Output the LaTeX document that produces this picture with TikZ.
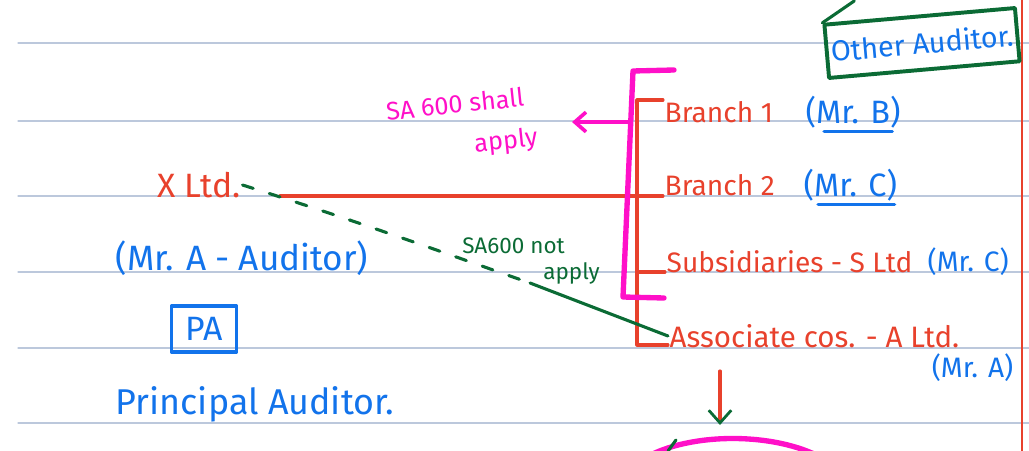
\documentclass[tikz,border=0pt]{standalone}
\usepackage{fontspec}
\setmainfont{Fira Sans}
\usepackage{xcolor}
\usepackage{tikz}
\usetikzlibrary{arrows.meta, positioning, calc}

\definecolor{penred}{HTML}{E8412C}
\definecolor{penblue}{HTML}{1273EB}
\definecolor{pengreen}{HTML}{0B6B35}
\definecolor{penpink}{HTML}{FF10C8}
\definecolor{ruleline}{HTML}{BCC8DC}

\tikzset{
  hand/.style={font=\fontsize{20}{22}\selectfont, inner sep=1pt},
  bighand/.style={font=\fontsize{24}{26}\selectfont, inner sep=1pt},
  redtxt/.style={hand, text=penred},
  bluetxt/.style={hand, text=penblue},
  pinktxt/.style={hand, text=penpink, font=\fontsize{18}{21}\selectfont},
  greentxt/.style={hand, text=pengreen, font=\fontsize{16}{18}\selectfont},
  redpen/.style={penred, line width=2.2pt},
  bluepen/.style={penblue, line width=2.2pt},
  greenpen/.style={pengreen, line width=2.2pt},
  pinkpen/.style={penpink, line width=3.8pt}
}

\begin{document}
\begin{tikzpicture}[x=0.025cm, y=-0.025cm, line cap=round, line join=round]
\useasboundingbox (0,0) rectangle (1029,451);
% Ruled page
\foreach \ry in {43,121,196,272,348,423}
  \draw[ruleline, line width=0.8pt] (18,\ry) -- (1029,\ry);
\draw[penred, line width=1.8pt] (1022,0) -- (1022,451);

% Left side: principal auditor
\node[redtxt, bighand, anchor=west] (xltd) at (156,185) {X Ltd.};
\node[bluetxt, bighand, font=\fontsize{25}{27}\selectfont, anchor=west] (mra) at (114,258) {(Mr. A - Auditor)};
\node[bluetxt, bighand, draw=penblue, line width=2.6pt, minimum width=46pt, minimum height=33pt] (pa) at (204,329) {PA};
\node[bluetxt, bighand, font=\fontsize{25.5}{27}\selectfont, anchor=west] (principal) at (114,404) {Principal Auditor.};

% Other auditor box
\node[bluetxt, font=\fontsize{20.5}{22}\selectfont, draw=pengreen, line width=2.8pt, rotate=5, minimum width=136pt, minimum height=38pt] (other) at (922,43) {Other Auditor.};
\draw[greenpen] (other.north west) -- ++(32,-22);

% Components
\node[redtxt, anchor=west] (br1) at (663,112) {Branch 1};
\node[bluetxt, font=\fontsize{23}{25}\selectfont, anchor=west] (mrb) at (804,112) {(Mr. B)};
\node[redtxt, anchor=west] (br2) at (663,185) {Branch 2};
\node[bluetxt, font=\fontsize{23}{25}\selectfont, anchor=west] (mrc) at (802,185) {(Mr. C)};
\node[redtxt, anchor=west] (sub) at (665,262) {Subsidiaries - S Ltd};
\node[bluetxt, anchor=west] (mrcc) at (926,262) {(Mr. C)};
\node[redtxt, font=\fontsize{21}{23}\selectfont, anchor=west] (asc) at (668,336) {Associate cos. - A Ltd.};
\node[bluetxt, anchor=east] (mraa) at (1015,368) {(Mr. A)};
\draw[bluepen] ($(mrb.south west)+(20,2)$) -- ($(mrb.south east)+(-10,2)$);
\draw[bluepen] ($(mrc.south west)+(16,2)$) -- ($(mrc.south east)+(-4,2)$);

% Red bracket
\coordinate (rtop) at (637,100);
\coordinate (rbot) at (637,345);
\coordinate (rmid) at (637,196);
\draw[redpen] (rtop -| br1.west) -- (rtop) -- (rbot) -- (rbot -| asc.west);
\draw[redpen] (rmid) -- (rmid -| br2.west);
\draw[redpen] (637,272) -- (sub.west |- 0,272);
\coordinate (xend) at (280,196);
\draw[redpen] (xend) -- (rmid);

% Pink bracket and SA 600 shall apply
\draw[pinkpen] (674,70) -- (633,71) -- (623,297) -- (664,298);
\coordinate (parrow) at (628,122);
\coordinate (ptip) at (572,122);
\node[pinktxt, rotate=6] (shall) at (455,104) {SA 600 shall};
\node[pinktxt, rotate=6] (shallb) at (506,142) {apply};
\draw[penpink, line width=2.6pt, -{Straight Barb[length=8pt, width=14pt]}] (parrow) -- (ptip);

% SA 600 not apply
\node[greentxt, align=left] (notapply) at (531,261) {SA600 not\\\hspace*{3.6em}apply};
\coordinate (gbend) at (530,283);
\draw[greenpen, dash pattern=on 8pt off 12pt] (xltd.east) .. controls (360,222) and (450,255) .. (gbend);
\draw[greenpen] (gbend) -- (asc.west);

% Down arrow
\coordinate (dtop) at (720,371);
\coordinate (dbot) at (720,425);
\draw[redpen, -{Straight Barb[color=pengreen, length=9pt, width=16pt, line width=2pt]}] (dtop) -- (dbot);

% Next part
\draw[pinkpen] (645,458) .. controls (690,432) and (775,432) .. (822,458);
\draw[greenpen] (668,451) -- (676,440);
\end{tikzpicture}
\end{document}
